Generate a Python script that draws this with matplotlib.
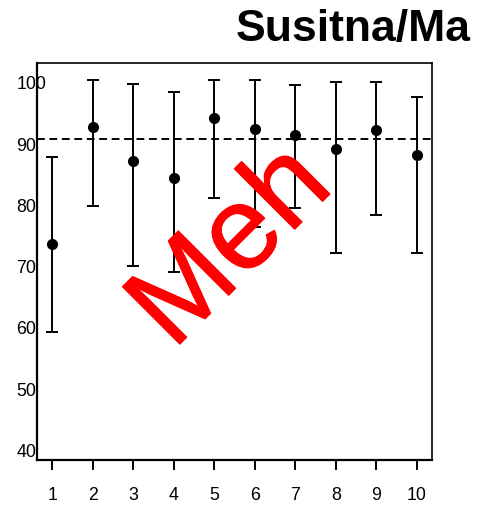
import matplotlib
matplotlib.use("Agg")
import matplotlib.pyplot as plt
import matplotlib.patheffects as pe

plt.rcParams['font.family'] = ['Liberation Sans', 'DejaVu Sans']

groups = [1, 2, 3, 4, 5, 6, 7, 8, 9, 10]
means = [73.6, 92.6, 87.05, 84.3, 94.1, 92.4, 91.3, 89.1, 92.2, 88.0]
upper = [87.8, 100.3, 99.7, 98.3, 100.3, 100.3, 99.5, 100.0, 100.0, 97.5]
lower = [59.2, 79.8, 70.0, 68.9, 81.1, 76.4, 79.4, 72.0, 78.3, 72.0]
reference = 90.65
yticks = [40, 50, 60, 70, 80, 90, 100]
title = "Susitna/Ma"
stamp = "Meh"

fig = plt.figure(figsize=(4.8, 5.06), dpi=100)
ax = fig.add_axes([0.0765, 0.0895, 0.8245, 0.784])

yerr = [[m - l for m, l in zip(means, lower)], [u - m for m, u in zip(means, upper)]]
ax.errorbar(groups, means, yerr=yerr, fmt='o', color='black', ms=7,
            elinewidth=1.4, capsize=4.2, capthick=1.4, zorder=3)
ax.axhline(reference, color='black', lw=1.4, dashes=(4.0, 2.4), zorder=2)

ax.set_xlim(0.615, 10.385)
ax.set_ylim(38.33, 103.1)
ax.set_xticks(groups)
ax.set_xticklabels([str(g) for g in groups])
ax.set_yticks(yticks)
ax.set_yticklabels([str(t) for t in yticks])
ax.tick_params(axis='x', length=7.2, width=1.4, pad=12.0, labelsize=12.8, direction='out')
ax.tick_params(axis='y', length=0, pad=14.5, labelsize=12.8)
for lab in ax.get_yticklabels():
    lab.set_ha('left')

for side in ['left', 'bottom']:
    ax.spines[side].set_linewidth(1.6)
for side in ['top', 'right']:
    ax.spines[side].set_linewidth(1.2)

fig.text(0.492, 0.919, title, fontsize=32, fontweight='bold', ha='left', va='baseline')

t = fig.text(173 / 480, 1 - 352 / 506, stamp, fontsize=85, color='#ff0000',
             rotation=45, rotation_mode='anchor', ha='left', va='baseline', zorder=10)
t.set_path_effects([pe.withStroke(linewidth=0.8, foreground='#ff0000', capstyle='round', joinstyle='round')])

fig.savefig('out.png', dpi=100)
